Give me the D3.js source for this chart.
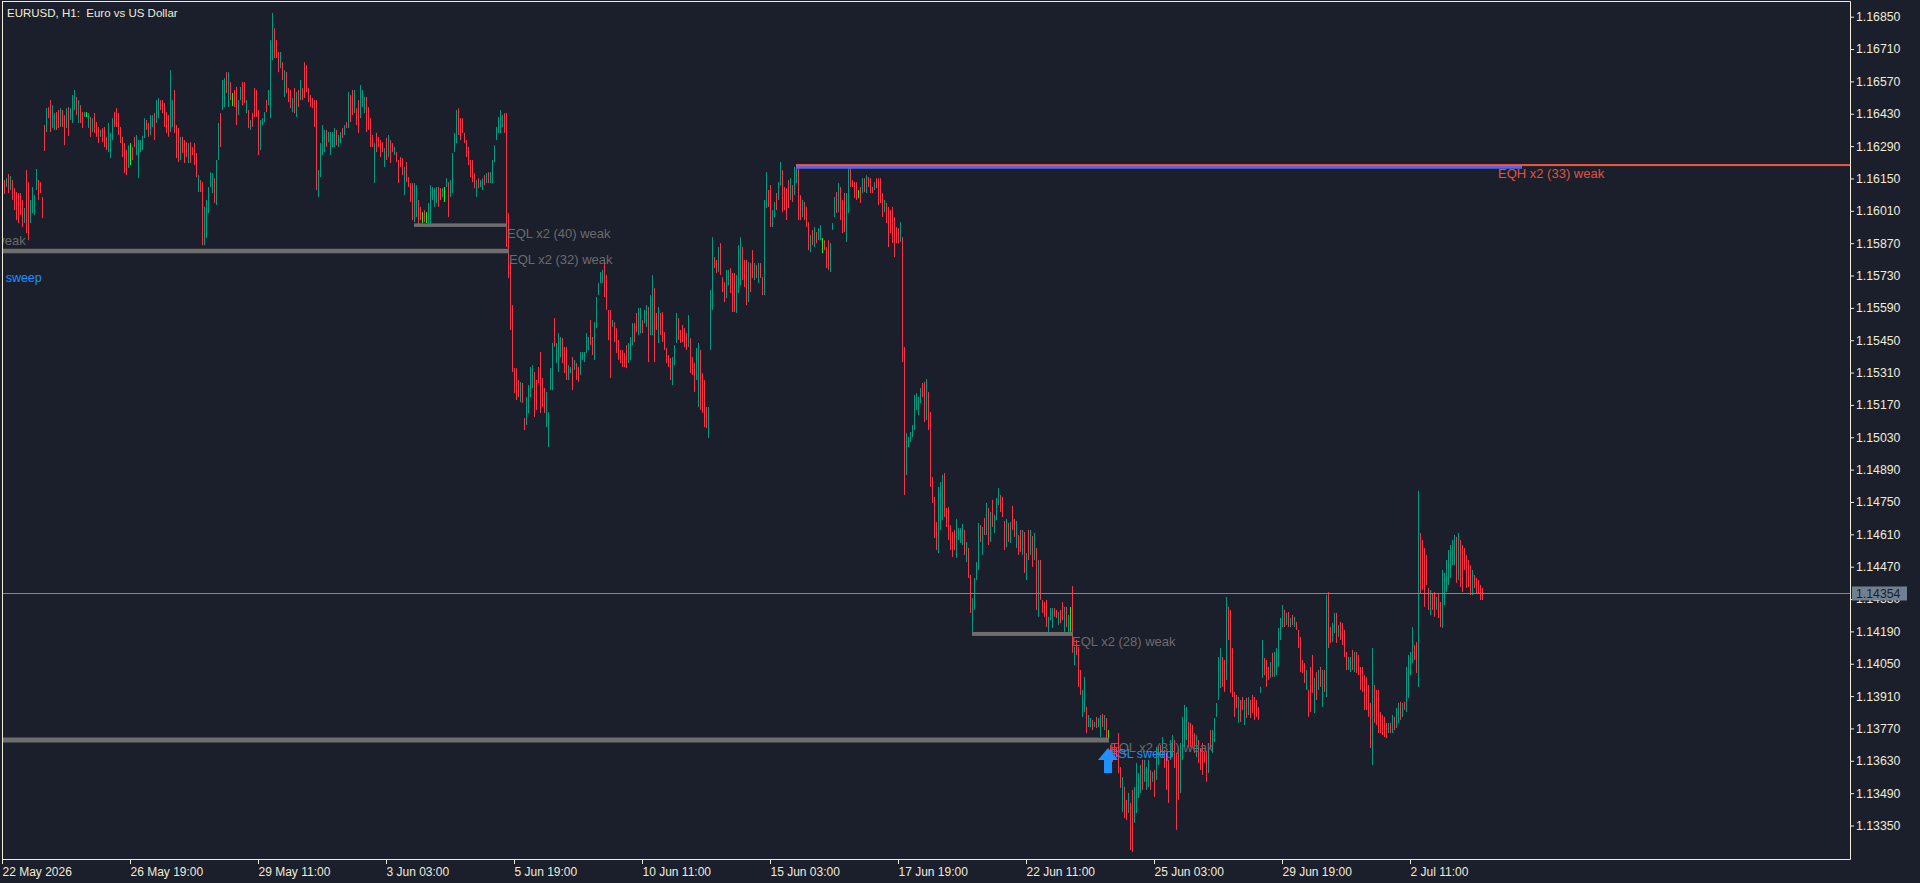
<!DOCTYPE html>
<html>
<head>
<meta charset="utf-8">
<script src="https://cdn.jsdelivr.net/npm/d3@7"></script>
<style>
  body { margin: 0; background: #1b1f2b; }
  svg { display: block; }
</style>
</head>
<body>
<svg id="chart" width="1920" height="883"></svg>
<script>
// EURUSD H1 bars, prices in points (1e-5)
const highs = [
  116160,116143,116151,116169,116160,116143,116108,116091,116087,116087,
  116057,116022,116186,116134,116057,116113,116078,116191,116143,116134,
  116070,116381,116454,116459,116489,116467,116433,116437,116446,116454,
  116446,116424,116454,116459,116454,116511,116533,116503,116489,116467,
  116437,116437,116437,116433,116416,116411,116433,116394,116373,116360,
  116368,116373,116330,116390,116347,116411,116437,116454,116433,116373,
  116330,116303,116273,116294,116303,116286,116330,116338,116316,116316,
  116334,116411,116403,116390,116424,116424,116433,116489,116498,116489,
  116489,116476,116437,116424,116619,116489,116533,116381,116368,116330,
  116330,116316,116307,116303,116307,116286,116303,116260,116164,116143,
  116134,116027,116057,116113,116177,116173,116151,116230,116390,116433,
  116576,116584,116610,116610,116567,116520,116533,116546,116489,116546,
  116567,116567,116489,116446,116403,116433,116541,116533,116446,116403,
  116411,116437,116489,116533,116749,116866,116800,116749,116697,116697,
  116653,116619,116610,116541,116533,116498,116541,116524,116533,116576,
  116541,116653,116640,116541,116511,116498,116489,116489,116186,116303,
  116381,116360,116360,116351,116351,116351,116368,116360,116338,116351,
  116368,116381,116394,116524,116511,116533,116533,116454,116489,116554,
  116533,116503,116503,116459,116411,116338,116303,116347,116330,116316,
  116307,116281,116325,116338,116316,116303,116286,116264,116230,116243,
  116238,116200,116221,116156,116130,116130,116130,116121,116057,116027,
  116004,116013,116004,116044,116121,116113,116108,116113,116113,116108,
  116108,116113,116151,116134,116143,116260,116347,116446,116454,116411,
  116411,116347,116316,116286,116230,116230,116173,116143,116151,116143,
  116151,116164,116173,116177,116177,116230,116294,116373,116416,116446,
  116424,116433,116433,116000,115788,115602,115329,115329,115278,115269,
  115265,115113,115204,115256,115334,115342,115312,115278,115334,115399,
  115286,115243,115226,115139,115329,115438,115546,115438,115481,115464,
  115459,115421,115421,115342,115334,115377,115364,115351,115334,115399,
  115399,115399,115481,115464,115537,115464,115528,115637,115697,115745,
  115754,115784,115732,115581,115581,115537,115528,115502,115451,115408,
  115408,115395,115429,115438,115464,115524,115524,115568,115589,115589,
  115537,115581,115602,115594,115645,115732,115675,115568,115594,115568,
  115572,115485,115416,115386,115373,115377,115429,115568,115546,115494,
  115516,115502,115481,115559,115459,115377,115351,115416,115438,115408,
  115308,115278,115161,115161,115667,115896,115810,115797,115853,115870,
  115723,115701,115754,115754,115762,115741,115741,115732,115861,115896,
  115853,115797,115797,115788,115784,115840,115784,115775,115784,115784,
  115723,116057,116177,116100,116121,116013,116048,116087,116134,116221,
  116186,116113,116108,116143,116151,116121,116200,116208,116200,116078,
  116057,116048,116027,115961,115905,115927,115940,115918,115935,115948,
  115892,115883,115853,115883,115870,115957,116070,116091,116130,116113,
  116057,116087,116087,116195,116205,116143,116134,116134,116100,116113,
  116151,116151,116164,116156,116151,116113,116134,116151,116151,116151,
  116087,116057,116044,116027,116013,116027,115983,115940,115935,115961,
  115896,115421,115048,115031,115053,115083,115213,115221,115204,115243,
  115265,115269,115282,115226,115139,114858,114772,114663,114815,114836,
  114867,114875,114724,114728,114650,114620,114629,114676,114637,114637,
  114655,114629,114577,114551,114434,114334,114421,114490,114659,114650,
  114642,114681,114746,114724,114707,114759,114694,114767,114810,114780,
  114772,114668,114676,114659,114663,114733,114676,114668,114607,114629,
  114629,114620,114529,114629,114629,114603,114616,114551,114499,114499,
  114326,114317,114326,114253,114291,114291,114291,114283,114274,114283,
  114317,114296,114296,114261,114296,114386,114123,114153,114123,114023,
  113937,113993,113863,113828,113815,113807,113798,113820,113815,113828,
  113833,113828,113815,113763,113698,113689,113707,113689,113750,113603,
  113560,113517,113461,113491,113448,113504,113517,113621,113577,113612,
  113634,113634,113603,113634,113590,113582,113590,113689,113689,113698,
  113733,113677,113664,113634,113720,113741,113720,113664,113689,113707,
  113820,113872,113863,113798,113794,113785,113750,113741,113720,113685,
  113707,113668,113668,113707,113763,113763,113815,113880,114079,114118,
  114079,114066,114339,114296,114283,114118,113928,113915,113906,113893,
  113906,113893,113902,113906,113893,113915,113906,113893,113863,113950,
  114153,114075,114066,114036,114057,114097,114101,114118,114205,114248,
  114304,114283,114270,114274,114248,114261,114253,114231,114196,114166,
  114066,114053,114023,113937,114036,114088,113989,114014,114023,114036,
  114023,114023,114347,114360,114209,114226,114270,114270,114218,114231,
  114226,114196,114101,114079,114079,114110,114101,114101,114088,114036,
  114036,114001,113993,113958,113880,114118,113958,113937,113937,113841,
  113828,113820,113794,113794,113794,113828,113820,113859,113880,113885,
  113880,113885,114036,114088,114101,114209,114131,114144,114798,114616,
  114586,114551,114521,114378,114369,114356,114360,114339,114356,114317,
  114456,114443,114499,114542,114564,114586,114607,114599,114616,114586,
  114564,114551,114521,114499,114477,114456,114434,114421,114412,114391,
  114378
];
const lows = [
  116091,116083,116113,116087,116100,116057,116013,115970,115957,115991,
  115940,115957,115914,115883,115957,116000,115991,116100,116057,116087,
  115978,116269,116351,116411,116351,116368,116360,116360,116368,116373,
  116373,116294,116368,116334,116403,116390,116446,116424,116390,116390,
  116368,116416,116416,116368,116330,116351,116347,116330,116303,116330,
  116307,116286,116273,116264,116238,116316,116373,116373,116338,116303,
  116243,116173,116164,116195,116208,116230,116286,116251,116151,116264,
  116273,116325,116360,116330,116338,116373,116316,116390,116411,116446,
  116433,116373,116347,116330,116351,116373,116347,116238,116221,116230,
  116260,116217,116243,116217,116217,116251,116208,116156,116091,116091,
  115861,115861,115892,116000,116113,116087,116044,116035,116230,116286,
  116446,116459,116520,116459,116489,116463,116459,116381,116424,116489,
  116467,116476,116433,116368,116360,116373,116416,116416,116251,116273,
  116381,116394,116437,116467,116411,116662,116671,116671,116610,116627,
  116576,116503,116520,116480,116454,116437,116433,116416,116459,116489,
  116489,116498,116524,116480,116459,116454,116373,116100,116070,116156,
  116251,116264,116286,116307,116251,116286,116286,116294,116286,116303,
  116325,116338,116368,116368,116394,116424,116433,116381,116347,116411,
  116459,116433,116351,116360,116286,116286,116130,116264,116286,116243,
  116264,116200,116230,116243,116217,116264,116251,116221,116130,116200,
  116164,116078,116134,116113,116048,115970,115961,115983,115948,115970,
  115957,115961,115957,115940,115940,116057,116027,116044,116027,116057,
  116070,116048,116113,115983,116070,116087,116264,116303,116338,116316,
  116347,116303,116243,116208,116156,116134,116108,116070,116108,116113,
  116100,116121,116130,116130,116130,116130,116221,116316,116347,116347,
  116373,116347,115853,115719,115494,115312,115221,115191,115204,115182,
  115178,115061,115083,115135,115204,115243,115118,115148,115265,115135,
  115161,115135,115074,114988,115234,115234,115421,115351,115312,115377,
  115351,115308,115278,115278,115308,115234,115321,115278,115269,115299,
  115364,115355,115395,115408,115429,115386,115364,115503,115645,115697,
  115697,115637,115581,115451,115286,115507,115442,115395,115364,115351,
  115334,115334,115329,115351,115364,115429,115442,115485,115472,115481,
  115481,115524,115507,115355,115472,115472,115355,115494,115438,115472,
  115442,115408,115351,115334,115278,115256,115342,115438,115451,115438,
  115442,115421,115408,115421,115308,115299,115226,115278,115161,115148,
  115135,115074,115070,115027,115408,115581,115762,115741,115745,115732,
  115658,115615,115632,115688,115654,115572,115572,115568,115654,115688,
  115710,115680,115602,115615,115658,115719,115710,115719,115697,115719,
  115645,115645,116022,116027,115940,115940,115983,116013,116057,116121,
  116004,116013,115970,116022,116057,116048,116078,116130,115970,115970,
  115983,115970,115940,115840,115831,115861,115853,115870,115883,115883,
  115827,115840,115762,115754,115745,115927,115983,116000,116004,115970,
  115914,115918,115875,116000,116113,116113,116065,116057,116065,116044,
  116087,116091,116087,116113,116087,116087,116100,116108,116035,116044,
  115983,116004,115957,115853,115914,115870,115810,115870,115870,115875,
  115355,114780,114867,114988,115009,115031,115061,115148,115126,115178,
  115204,115096,115105,115061,114815,114746,114594,114542,114529,114629,
  114672,114685,114642,114586,114542,114512,114542,114508,114586,114573,
  114564,114521,114490,114421,114270,114183,114283,114412,114456,114577,
  114521,114607,114607,114564,114577,114642,114616,114672,114737,114707,
  114685,114542,114555,114577,114573,114629,114599,114551,114521,114534,
  114521,114443,114412,114499,114521,114469,114499,114283,114253,114326,
  114270,114253,114209,114188,114239,114205,114253,114248,114218,114226,
  114239,114188,114209,114188,114188,114097,114044,114088,113950,113915,
  113820,113841,113750,113776,113776,113763,113776,113772,113776,113733,
  113776,113763,113711,113711,113646,113625,113634,113646,113577,113513,
  113409,113383,113374,113404,113244,113235,113361,113404,113469,113491,
  113504,113539,113504,113517,113504,113539,113474,113547,113612,113646,
  113646,113599,113504,113448,113634,113646,113599,113331,113461,113491,
  113634,113689,113720,113689,113689,113685,113664,113646,113621,113590,
  113569,113621,113539,113577,113689,113664,113711,113820,113893,113945,
  113950,113928,113980,114153,113924,113906,113820,113859,113794,113798,
  113850,113785,113815,113828,113815,113837,113807,113820,113807,113924,
  113989,114001,113950,113980,113989,113993,113993,114001,114036,114153,
  114209,114209,114218,114209,114209,114218,114209,114196,114118,114014,
  114010,113967,113937,113820,113841,113924,113837,113893,113937,113950,
  113863,113928,113906,114118,114140,114144,114183,114140,114166,114153,
  114131,114079,114023,114023,114014,114023,114014,114010,114001,113937,
  113928,113850,113850,113820,113685,113612,113794,113785,113750,113750,
  113741,113733,113728,113750,113750,113750,113763,113772,113794,113807,
  113820,113850,113841,113902,114001,114053,114066,114010,113950,114356,
  114369,114296,114391,114283,114261,114283,114253,114283,114248,114209,
  114205,114304,114360,114391,114421,114477,114477,114399,114412,114382,
  114360,114456,114378,114382,114347,114347,114378,114356,114352,114326,
  114326
];
// u = bull, d = bear, g = highlighted bar
const barKinds = [
  'ddududdddd','dudduuuudd','ddudduuddu','dduduuudud','dugududddu',
  'ddduuudddd','dddugdduuu','uudduuduud','dddduudddu','ddduddddud',
  'duuuuuduud','uududgdduu','ddududdddu','uuduuudddu','dudddududu',
  'dddddddduu','uuduuuuduu','dududduddu','uudddduddd','dududduddd',
  'dudddduudd','gdguuuuudd','uguduuuudd','dddddddudu','ududuuuuuu',
  'udd' + 'ddddddu',
  'dduuuudddd','dduuuuduuu','ddduududdu','uuuudduuuu','uddddudddd',
  'ddduuudduu','duuduuddud','ddddduuudd','ddduddduud','ddduuuddud',
  'dduuddduuu','ddduddudud','duudduuduu','dddduduudd','udddududuu',
  'gddduuudud','dduuddddgd','ududdduddd','dudddddddu',
  'dd' + 'uuuuuuuu',
  'dduddddduu','udddddduuu','ududduuuud','udududuuud','ddududdudd',
  'ududududud','ddduuuddud',
  'dudugd' + 'uddd',
  'uuduududuu','dudgdddddd','uddudduuuu','duuududuud','uddduudddu',
  'uuuddddudd','ddduduuuuu','ddudddddud','dududddddu','uddduduuuu',
  'ududududdd','ddudddudud','ududduudud','ddduududdd','dddddudddd',
  'dddududuud','uduuuuddud','dddduddudd','uuuuuuudud','ddddduddddd'
].join('');

const timeTickBars = [0, 64, 128, 192, 256, 320, 384, 448, 512, 576, 640, 704];
const timeTickLabels = ['22 May 2026', '26 May 19:00', '29 May 11:00', '3 Jun 03:00',
  '5 Jun 19:00', '10 Jun 11:00', '15 Jun 03:00', '17 Jun 19:00', '22 Jun 11:00',
  '25 Jun 03:00', '29 Jun 19:00', '2 Jul 11:00'];
const priceTicks = [1.16850, 1.16710, 1.16570, 1.16430, 1.16290, 1.16150, 1.16010,
  1.15870, 1.15730, 1.15590, 1.15450, 1.15310, 1.15170, 1.15030, 1.14890, 1.14750,
  1.14610, 1.14470, 1.14330, 1.14190, 1.14050, 1.13910, 1.13770, 1.13630, 1.13490, 1.13350];

// equal-low / equal-high levels
const levelNames = ['EQL x2 (32) weak', 'EQL x2 (40) weak', 'EQL x2 (28) weak', 'EQL x2 (31) weak', 'EQH x2 (33) weak'];
const levelPrices = [1.15836, 1.15948, 1.14179, 1.13720, 1.16208];
const levelStart = [-60, 206, 485, -60, 397];
const levelEnd = [253, 252, 535, 553, 760];
const levelWidth = [4.5, 3.5, 4, 5, 2.8];
const levelLabelBar = [253.5, 252.5, 535, 554, 748];

// SSL sweep marks (bar, swept price)
const sweepBars = [-12.5, 553];
const sweepPrices = [1.15780, 1.13720];
const lastPrice = 1.14354;

const W = 1920, H = 883;
const pL = 2, pT = 2, pR = 1850, pB = 859;
const fg = '#f0ecd8', bg = '#1b1f2b';
const font = '"Liberation Sans", Arial, sans-serif';
const colors = { u: '#089981', d: '#f23645', g: '#2ee62e' };

const svg = d3.select('#chart');
svg.append('rect').attr('width', W).attr('height', H).attr('fill', bg);

const x = d3.scaleLinear().domain([0, 740]).range([2, 1482]);
const y = d3.scaleLinear().domain([1.13350, 1.16850]).range([825.5, 16.7]);

svg.append('clipPath').attr('id', 'plotClip')
  .append('rect').attr('x', pL + 1).attr('y', pT + 1)
  .attr('width', pR - pL - 1).attr('height', pB - pT - 1);

const plot = svg.append('g').attr('clip-path', 'url(#plotClip)');

// bars
const bars = highs.map((h, i) => ({ i, high: h / 1e5, low: lows[i] / 1e5, kind: barKinds[i] || 'd' }));
plot.append('g')
  .selectAll('rect')
  .data(bars)
  .enter()
  .append('rect')
  .attr('x', d => Math.round(x(d.i)))
  .attr('y', d => y(d.high))
  .attr('width', 1)
  .attr('height', d => Math.max(1, y(d.low) - y(d.high)))
  .attr('fill', d => colors[d.kind]);

// current price line
plot.append('line')
  .attr('x1', pL).attr('x2', pR)
  .attr('y1', Math.round(y(lastPrice)) + 0.5).attr('y2', Math.round(y(lastPrice)) + 0.5)
  .attr('stroke', '#778899').attr('stroke-width', 1);

// levels
levelNames.forEach((name, k) => {
  const yy = y(levelPrices[k]);
  const isHigh = name.startsWith('EQH');
  if (isHigh) {
    plot.append('rect')
      .attr('x', x(levelStart[k])).attr('y', yy + 0.9)
      .attr('width', x(levelEnd[k]) - x(levelStart[k])).attr('height', levelWidth[k])
      .attr('fill', '#5566f2');
    plot.append('rect')
      .attr('x', x(levelStart[k])).attr('y', yy - 1)
      .attr('width', pR - x(levelStart[k])).attr('height', 2)
      .attr('fill', '#f0553c');
  } else {
    plot.append('rect')
      .attr('x', x(levelStart[k])).attr('y', yy - levelWidth[k] / 2)
      .attr('width', x(levelEnd[k]) - x(levelStart[k]) + 1).attr('height', levelWidth[k])
      .attr('fill', '#6e6e6e');
  }
  plot.append('text')
    .attr('x', x(levelLabelBar[k]))
    .attr('y', yy + 12.5)
    .attr('font-family', font).attr('font-size', 13)
    .attr('fill', isHigh ? '#e0533f' : '#6b6b6b')
    .text(name);
});

// label tail of a level whose line lies left of the view
plot.append('text')
  .attr('x', x(11.85)).attr('y', y(1.15914) + 12.5)
  .attr('text-anchor', 'end')
  .attr('font-family', font).attr('font-size', 13)
  .attr('fill', '#6b6b6b')
  .text('weak');

// sweep arrows and labels
sweepBars.forEach((b, k) => {
  const cx = x(b), ty = y(sweepPrices[k]) + 8;
  plot.append('path')
    .attr('d', `M${cx},${ty} L${cx + 10},${ty + 12} L${cx + 4},${ty + 12} L${cx + 4},${ty + 25} L${cx - 4},${ty + 25} L${cx - 4},${ty + 12} L${cx - 10},${ty + 12} Z`)
    .attr('fill', '#1e90ff');
  plot.append('text')
    .attr('x', cx + 2).attr('y', ty + 10)
    .attr('font-family', font).attr('font-size', 12.5)
    .attr('fill', '#1e90ff')
    .text('SSL sweep');
});

// title
svg.append('text')
  .attr('x', 7).attr('y', 16.5)
  .attr('font-family', font).attr('font-size', 11.5)
  .attr('fill', fg)
  .style('white-space', 'pre')
  .text('EURUSD, H1:  Euro vs US Dollar');

// frame
const frame = svg.append('g').attr('stroke', fg).attr('stroke-width', 1);
frame.append('line').attr('x1', pL + 0.5).attr('x2', pL + 0.5).attr('y1', pT).attr('y2', pB + 0.5);
frame.append('line').attr('x1', pL).attr('x2', pR + 0.5).attr('y1', pT - 0.5).attr('y2', pT - 0.5);
frame.append('line').attr('x1', pR + 0.5).attr('x2', pR + 0.5).attr('y1', pT - 0.5).attr('y2', pB + 0.5);
frame.append('line').attr('x1', pL).attr('x2', pR + 0.5).attr('y1', pB + 0.5).attr('y2', pB + 0.5);

// price axis
const yAxis = svg.append('g')
  .attr('transform', `translate(${pR},0)`)
  .call(d3.axisRight(y).tickValues(priceTicks).tickSize(4).tickPadding(2).tickFormat(d3.format('.5f')));
yAxis.select('.domain').remove();
yAxis.selectAll('line').attr('stroke', fg);
yAxis.selectAll('text').attr('fill', fg).attr('font-family', font).attr('font-size', 12.3);

// time axis
const xAxis = svg.append('g')
  .attr('transform', `translate(0,${pB})`)
  .call(d3.axisBottom(x).tickValues(timeTickBars).tickSize(5).tickPadding(3)
    .tickFormat((d, i) => timeTickLabels[i]));
xAxis.select('.domain').remove();
xAxis.selectAll('line').attr('stroke', fg);
xAxis.selectAll('text').attr('fill', fg).attr('font-family', font).attr('font-size', 12)
  .attr('text-anchor', 'start');

// last price tag
const tagY = y(lastPrice);
svg.append('rect')
  .attr('x', pR + 2).attr('y', tagY - 7)
  .attr('width', 55).attr('height', 14)
  .attr('fill', '#708090');
svg.append('text')
  .attr('x', pR + 6).attr('y', tagY)
  .attr('dy', '0.35em')
  .attr('font-family', font).attr('font-size', 12.3)
  .attr('fill', '#1b1f2b')
  .text(d3.format('.5f')(lastPrice));
</script>
</body>
</html>
